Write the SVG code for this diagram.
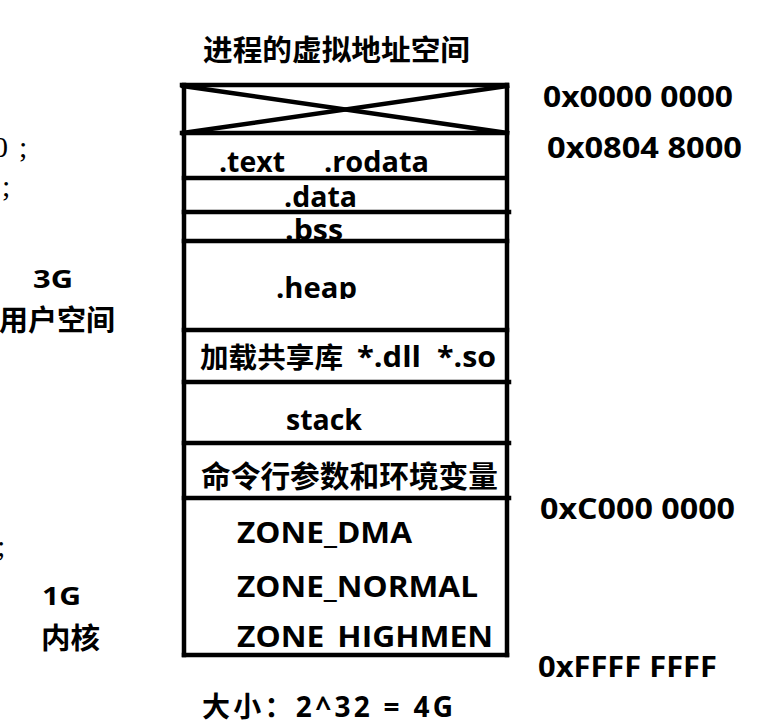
<svg xmlns="http://www.w3.org/2000/svg" width="781" height="727" viewBox="0 0 781 727">
<style>
.t{font-family:"Open Sans","Noto Sans CJK SC",sans-serif;font-weight:bold;fill:#000;}
.c{font-family:"Noto Sans CJK SC",sans-serif;font-weight:bold;fill:#000;}
.s{font-family:"Liberation Serif","Noto Sans CJK SC",serif;fill:#000;}
.ln{stroke:#000;stroke-width:4.5;fill:none;stroke-linecap:square;}
</style>
<defs>
<clipPath id="heapClip"><rect x="186" y="240" width="320" height="59"/></clipPath>
<clipPath id="zoneClip"><rect x="186" y="600" width="320" height="50"/></clipPath>
</defs>
<rect width="781" height="727" fill="#fff"/>

<g id="title">
<text class="c" x="203" y="61" font-size="29" textLength="267" lengthAdjust="spacingAndGlyphs">进程的虚拟地址空间</text>
</g>

<g id="left-fragments">
<text class="s" x="-7" y="157" font-size="30">0</text>
<text class="s" x="19" y="157" font-size="30">;</text>
<text class="s" x="2" y="196" font-size="30">;</text>
<text class="s" x="-3" y="556" font-size="30">;</text>
</g>

<g id="left-labels">
<text class="t" x="33" y="288" font-size="25" textLength="40" lengthAdjust="spacingAndGlyphs">3G</text>
<text class="c" x="-1" y="331" font-size="29" textLength="116" lengthAdjust="spacingAndGlyphs">用户空间</text>
<text class="t" x="42" y="605" font-size="25" textLength="39" lengthAdjust="spacingAndGlyphs">1G</text>
<text class="c" x="41" y="649" font-size="29" textLength="59" lengthAdjust="spacingAndGlyphs">内核</text>
</g>

<g id="seg-reserved">
<line class="ln" x1="183" y1="86" x2="507" y2="133"/>
<line class="ln" x1="507" y1="86" x2="183" y2="133"/>
</g>

<g id="seg-text">
<text class="t" x="219" y="172" font-size="28" textLength="66" lengthAdjust="spacingAndGlyphs">.text</text>
<text class="t" x="324" y="172" font-size="28" textLength="105" lengthAdjust="spacingAndGlyphs">.rodata</text>
</g>
<g id="seg-data">
<text class="t" x="284" y="207" font-size="28" textLength="73" lengthAdjust="spacingAndGlyphs">.data</text>
</g>
<g id="seg-bss">
<text class="t" x="285" y="240" font-size="28" textLength="58" lengthAdjust="spacingAndGlyphs">.bss</text>
</g>
<g id="seg-heap">
<text class="t" x="276" y="298" font-size="28" textLength="81" lengthAdjust="spacingAndGlyphs" clip-path="url(#heapClip)">.heap</text>
</g>
<g id="seg-shared">
<text class="c" x="200" y="368" font-size="28.5" textLength="143" lengthAdjust="spacingAndGlyphs">加载共享库</text>
<text class="t" x="357" y="367" font-size="28" textLength="64" lengthAdjust="spacingAndGlyphs">*.dll</text>
<text class="t" x="437" y="367" font-size="28" textLength="59" lengthAdjust="spacingAndGlyphs">*.so</text>
</g>
<g id="seg-stack">
<text class="t" x="286" y="430" font-size="28" textLength="76" lengthAdjust="spacingAndGlyphs">stack</text>
</g>
<g id="seg-env">
<text class="c" x="201" y="487" font-size="29.5" textLength="297" lengthAdjust="spacingAndGlyphs">命令行参数和环境变量</text>
</g>
<g id="seg-kernel">
<text class="t" x="237" y="543" font-size="28.5" textLength="175" lengthAdjust="spacingAndGlyphs">ZONE_DMA</text>
<text class="t" x="237" y="597" font-size="28.5" textLength="241" lengthAdjust="spacingAndGlyphs">ZONE_NORMAL</text>
<text class="t" x="237" y="647" font-size="28.5" textLength="256" lengthAdjust="spacingAndGlyphs" clip-path="url(#zoneClip)">ZONE_HIGHMEN</text>
</g>

<g id="box">
<line class="ln" x1="184" y1="85" x2="184" y2="655"/>
<line class="ln" x1="507" y1="85" x2="507" y2="655"/>
<line class="ln" x1="182" y1="85" x2="507" y2="85"/>
<line class="ln" x1="182" y1="133" x2="507" y2="133"/>
<line class="ln" x1="184" y1="178" x2="503" y2="178"/>
<line class="ln" x1="184" y1="212" x2="509" y2="212"/>
<line class="ln" x1="184" y1="241" x2="507" y2="241"/>
<line class="ln" x1="184" y1="330" x2="507" y2="330"/>
<line class="ln" x1="184" y1="382" x2="509" y2="382"/>
<line class="ln" x1="184" y1="443" x2="509" y2="443"/>
<line class="ln" x1="184" y1="498" x2="509" y2="498"/>
<line class="ln" x1="184" y1="655" x2="507" y2="655"/>
</g>

<g id="addresses">
<text class="t" x="543" y="107" font-size="29" textLength="190" lengthAdjust="spacingAndGlyphs">0x0000 0000</text>
<text class="t" x="547" y="158" font-size="29" textLength="195" lengthAdjust="spacingAndGlyphs">0x0804 8000</text>
<text class="t" x="540" y="519" font-size="29" textLength="195" lengthAdjust="spacingAndGlyphs">0xC000 0000</text>
<text class="t" x="538" y="677" font-size="29" textLength="179" lengthAdjust="spacingAndGlyphs">0xFFFF FFFF</text>
</g>

<g id="size">
<text class="t" x="202" y="717" font-size="28" textLength="251" lengthAdjust="spacing">大小：2^32 = 4G</text>
</g>
</svg>
